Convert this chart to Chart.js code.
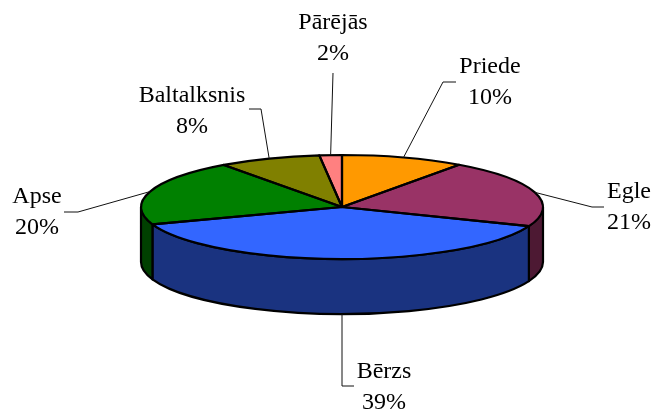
<!DOCTYPE html>
<html><head><meta charset="utf-8">
<style>html,body{margin:0;padding:0;background:#fff}#w{width:654px;height:413px;position:relative}</style>
<script src="https://cdn.jsdelivr.net/npm/chart.js@4"></script>
</head><body><div id="w"><canvas id="c"></canvas></div>
<script>
const categories = ['Priede','Egle','Bērzs','Apse','Baltalksnis','Pārējās'];
const shares = [9.9,21.1,38.6,20.4,8.2,1.8];
const topColors = ['#FF9900','#993366','#3366FF','#008000','#808000','#FF8080'];
const wallColors = ['#804D00','#4D1933','#1A3380','#004000','#404000','#804040'];
// label layout: text centre x, first baseline y, leader elbow and leader end
const labelLayout = [
  {x:490,y:73,elbow:[443,82],end:[456,82]},
  {x:629,y:198,elbow:[592,207],end:[604,207]},
  {x:384,y:378,elbow:[342,386],end:[354,386],front:true},
  {x:37,y:203,elbow:[78,212],end:[64,212]},
  {x:192,y:102,elbow:[261,109],end:[249,109]},
  {x:333,y:29,elbow:null,end:[333,73]}
];
const RX=201, RY=52, DEPTH=55, LH=31;
const pie3d = {
  id:'pie3d',
  beforeDatasetsDraw(chart){
    const ctx=chart.ctx, arcs=chart.getDatasetMeta(0).data;
    const cx=arcs[0].x, cy=arcs[0].y;
    ctx.save(); ctx.lineWidth=2.2; ctx.strokeStyle='#000'; ctx.lineJoin='round';
    arcs.forEach((a,i)=>{
      const s=Math.max(a.startAngle,0), e=Math.min(a.endAngle,Math.PI);
      if(e<=s) return;
      ctx.beginPath();
      ctx.ellipse(cx,cy,RX,RY,0,s,e);
      ctx.ellipse(cx,cy+DEPTH,RX,RY,0,e,s,true);
      ctx.closePath();
      ctx.fillStyle=wallColors[i]; ctx.fill(); ctx.stroke();
    });
    ctx.restore();
    ctx.save();
    ctx.translate(cx,cy); ctx.scale(1,RY/RX); ctx.translate(-cx,-cy);
  },
  afterDatasetsDraw(chart){
    const ctx=chart.ctx, arcs=chart.getDatasetMeta(0).data;
    ctx.restore();
    const cx=arcs[0].x, cy=arcs[0].y;
    ctx.save(); ctx.lineWidth=2.2; ctx.strokeStyle='#000'; ctx.lineJoin='round';
    arcs.forEach(a=>{
      ctx.beginPath();
      ctx.moveTo(cx,cy);
      ctx.ellipse(cx,cy,RX,RY,0,a.startAngle,a.endAngle);
      ctx.closePath(); ctx.stroke();
    });
    ctx.restore();
    ctx.save();
    ctx.font='24px "Liberation Serif"'; ctx.fillStyle='#000'; ctx.textAlign='center';
    ctx.strokeStyle='#111'; ctx.lineWidth=1;
    const total=shares.reduce((p,v)=>p+v,0);
    arcs.forEach((a,i)=>{
      const l=labelLayout[i], m=(a.startAngle+a.endAngle)/2;
      let tx=cx+RX*Math.cos(m), ty=cy+RY*Math.sin(m);
      if(l.front){ tx=cx; ty=cy+RY+DEPTH; }
      ctx.beginPath(); ctx.moveTo(tx,ty);
      if(l.elbow) ctx.lineTo(l.elbow[0],l.elbow[1]);
      ctx.lineTo(l.end[0],l.end[1]); ctx.stroke();
      ctx.fillText(categories[i],l.x,l.y);
      ctx.fillText(Math.round(shares[i]/total*100)+'%',l.x,l.y+LH);
    });
    ctx.restore();
  }
};
new Chart(document.getElementById('c'),{
  type:'pie',
  data:{labels:categories,datasets:[{data:shares,backgroundColor:topColors,borderWidth:0,radius:RX,clip:false,hoverOffset:0}]},
  options:{responsive:true,maintainAspectRatio:false,animation:false,events:[],
    layout:{padding:{left:30,right:0,top:1,bottom:0}},
    plugins:{legend:{display:false},tooltip:{enabled:false},title:{display:false}}},
  plugins:[pie3d]
});
</script></body></html>
